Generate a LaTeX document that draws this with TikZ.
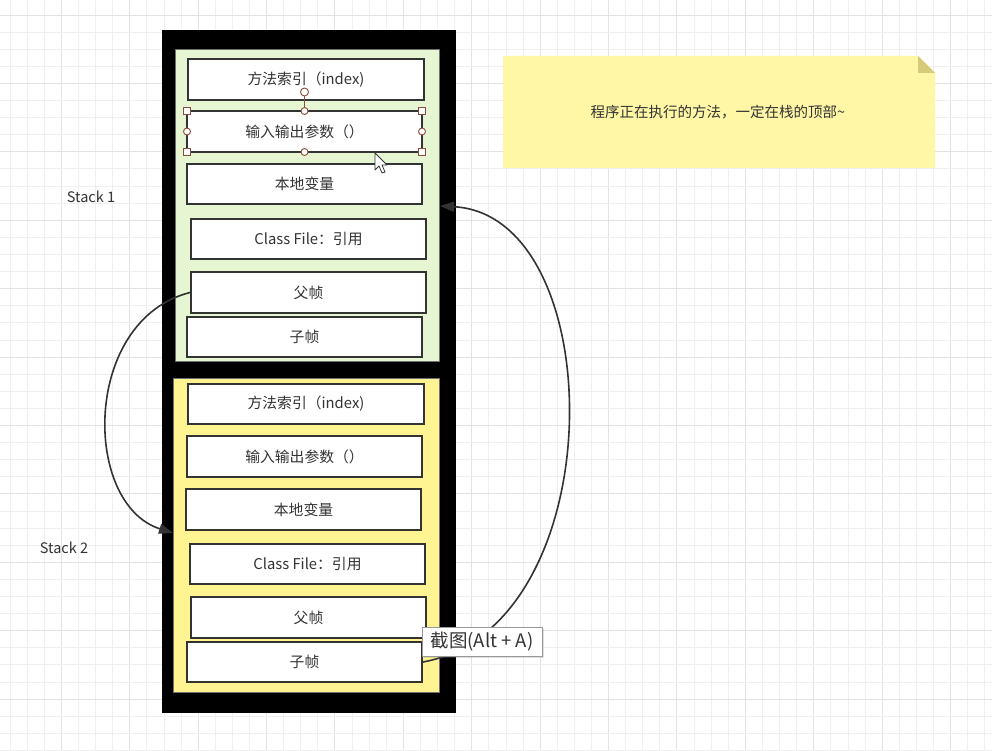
\documentclass[tikz,border=0pt]{standalone}
\usepackage{fontspec}
\setmainfont{Noto Sans CJK SC}
\usetikzlibrary{arrows.meta,shadows}
\definecolor{ink}{HTML}{333333}
\definecolor{gridminor}{HTML}{EFEFEF}
\definecolor{gridmajor}{HTML}{E3E3E3}
\definecolor{greenfill}{HTML}{E6F5D2}
\definecolor{yellowfill}{HTML}{FFF491}
\definecolor{notefill}{HTML}{FFF7A6}
\definecolor{notefold}{HTML}{D6CB78}
\definecolor{handle}{HTML}{8E4A3E}
\tikzset{
  stackbox/.style={draw=ink, line width=2, fill=white, inner sep=0, text=ink,
    font=\fontsize{14.8}{17}\selectfont},
  lbl/.style={text=ink, font=\fontsize{14.5}{17}\selectfont, inner sep=0},
  conn/.style={draw=ink, line width=1.6, -{Triangle[length=14,width=10]}},
  hsq/.style={draw=handle, fill=white, line width=0.9},
}
\begin{document}
\begin{tikzpicture}[x=1pt,y=-1pt]
\useasboundingbox (0,0) rectangle (992,751);
\fill[white] (0,0) rectangle (992,751);
% grid
\foreach \i in {0,...,57}{
  \pgfmathtruncatemacro{\m}{mod(\i,4)}
  \ifnum\m=3 \draw[gridmajor, line width=0.9] ({10+17.1*\i},0) -- ({10+17.1*\i},751);
  \else \draw[gridminor, line width=0.8] ({10+17.1*\i},0) -- ({10+17.1*\i},751); \fi
}
\foreach \i in {0,...,43}{
  \pgfmathtruncatemacro{\m}{mod(\i,4)}
  \ifnum\m=0 \draw[gridmajor, line width=0.9] (0,{15+17.1*\i}) -- (992,{15+17.1*\i});
  \else \draw[gridminor, line width=0.8] (0,{15+17.1*\i}) -- (992,{15+17.1*\i}); \fi
}
% outer frame
\fill[black] (162,30) rectangle (456,713);
\draw[fill=greenfill, draw=ink!70, line width=0.8] (175,49) rectangle (439,361);
\draw[fill=yellowfill, draw=ink!70, line width=0.8] (173,378) rectangle (439,692);
% stack 1 boxes
\node[stackbox, minimum width=236, minimum height=41] (g1) at (306,79.5) {方法索引（index)};
\node[stackbox, minimum width=235, minimum height=41] (g2) at (304.5,131.5) {输入输出参数（）};
\node[stackbox, minimum width=235, minimum height=40] (g3) at (304.5,184) {本地变量};
\node[stackbox, minimum width=235, minimum height=40] (g4) at (308.5,239) {Class File：引用};
\node[stackbox, minimum width=235, minimum height=41] (g5) at (308.5,292.5) {父帧};
\node[stackbox, minimum width=235, minimum height=40] (g6) at (304.5,337) {子帧};
% stack 2 boxes
\node[stackbox, minimum width=236, minimum height=40] (s1) at (306,404) {方法索引（index)};
\node[stackbox, minimum width=235, minimum height=41] (s2) at (304.5,456.5) {输入输出参数（）};
\node[stackbox, minimum width=235, minimum height=41] (s3) at (303.5,509.5) {本地变量};
\node[stackbox, minimum width=235, minimum height=40] (s4) at (307.5,564) {Class File：引用};
\node[stackbox, minimum width=235, minimum height=41] (s5) at (308.5,617.5) {父帧};
\node[stackbox, minimum width=235, minimum height=40] (s6) at (304.5,662) {子帧};
% selection handles on g2
\draw[handle, line width=0.9] (304.5,96) -- (304.5,111);
\draw[hsq] (304.5,92) circle (4);
\foreach \p in {(187,111),(422,111),(187,152),(422,152)}{
  \draw[hsq] \p ++(-3.5,-3.5) rectangle ++(7,7);
}
\foreach \p in {(304.5,111),(304.5,152),(187,131.5),(422,131.5)}{
  \draw[hsq] \p circle (3.5);
}
% cursor
\draw[fill=white, draw=ink, line width=0.8, line join=round]
  (375,153) -- (375,170) -- (379,166) -- (382,173) -- (385,172) -- (382,165) -- (387,165) -- cycle;
% labels
\node[lbl] (st1) at (91,197) {Stack 1};
\node[lbl] (st2) at (64,548) {Stack 2};
% note
\fill[notefill] (503,56) -- (918,56) -- (935,73) -- (935,168) -- (503,168) -- cycle;
\fill[notefold] (918,56) -- (918,73) -- (935,73) -- cycle;
\node[lbl] (note) at (718,112) {程序正在执行的方法，一定在栈的顶部\textasciitilde};
% connectors
\coordinate (tgt2) at (173,533);
\coordinate (tgt1) at (440,206);
\draw[conn] (g5.west) .. controls (82,320) and (82,504) .. (tgt2);
\draw[conn] (s6.east) .. controls (614,627) and (612,215) .. (tgt1);
% tooltip
\node[draw=gray!80, fill=white, line width=0.8, drop shadow={shadow xshift=2pt, shadow yshift=-2pt, opacity=0.25},
  minimum width=120, minimum height=29, inner sep=0, text=ink, font=\fontsize{18.5}{20}\selectfont]
  (tip) at (482,641.5) {截图(Alt + A)};
\end{tikzpicture}
\end{document}
